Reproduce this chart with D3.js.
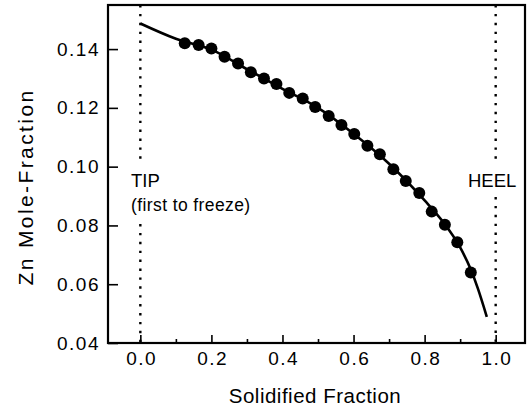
<!DOCTYPE html>
<html>
<head>
<meta charset="utf-8">
<script src="https://cdn.jsdelivr.net/npm/d3@7"></script>
<style>
  body { margin: 0; background: #fff; }
  svg text { font-family: "Liberation Sans", Arial, Helvetica, sans-serif; fill: #000; }
</style>
</head>
<body>
<svg id="chart" width="528" height="411"></svg>
<script>
// measured points (solidified fraction vs Zn mole fraction)
const fraction = [0.125, 0.164, 0.200, 0.237, 0.275, 0.311, 0.348, 0.383, 0.419, 0.457, 0.492, 0.530,
                  0.566, 0.602, 0.639, 0.674, 0.712, 0.747, 0.785, 0.820, 0.857, 0.892, 0.930];
const znMole = [0.1420, 0.1414, 0.1402, 0.1374, 0.1351, 0.1321, 0.1300, 0.1281, 0.1251, 0.1232, 0.1203, 0.1172,
                0.1142, 0.1111, 0.1071, 0.1042, 0.0991, 0.0951, 0.0910, 0.0847, 0.0802, 0.0743, 0.0640];

// fitted curve
const fitFraction = [0.0, 0.1, 0.2, 0.3, 0.4, 0.5, 0.6, 0.7, 0.8, 0.85, 0.9, 0.93, 0.95, 0.975];
const fitZn = [0.1487, 0.1435, 0.1398, 0.1332, 0.1265, 0.1200, 0.1112, 0.1010, 0.0885, 0.0815, 0.0725, 0.0650, 0.0585, 0.0489];

const xTicks = [0.0, 0.2, 0.4, 0.6, 0.8, 1.0];
const xMinorTicks = [0.1, 0.3, 0.5, 0.7, 0.9];
const yTicks = [0.04, 0.06, 0.08, 0.10, 0.12, 0.14];

const markerPos = [0.0, 1.0];
const markerText = [["TIP", "(first to freeze)"], ["HEEL"]];

const svg = d3.select("#chart");
const plotL = 108, plotR = 525, plotT = 5, plotB = 343;

const x = d3.scaleLinear().domain([-0.091, 1.0825]).range([plotL, plotR]);
const y = d3.scaleLinear().domain([0.04, 0.155]).range([plotB, plotT]);

// dotted vertical markers, broken where the labels sit
const gaps = [[163, 224], [163, 197]];
markerPos.forEach((m, i) => {
  [[plotT, gaps[i][0]], [gaps[i][1], plotB]].forEach(seg => {
    svg.append("line")
      .attr("x1", x(m)).attr("x2", x(m))
      .attr("y1", seg[0]).attr("y2", seg[1])
      .attr("stroke", "#000")
      .attr("stroke-width", 2.4)
      .attr("stroke-dasharray", "2.4,6.5");
  });
});

// labels for markers
svg.append("text").attr("x", 131).attr("y", 187).attr("font-size", 18.5).text(markerText[0][0]);
svg.append("text").attr("x", 131).attr("y", 211).attr("font-size", 17.5)
  .attr("letter-spacing", 0.4).text(markerText[0][1]);
svg.append("text").attr("x", 468).attr("y", 187).attr("font-size", 18.5).text(markerText[1][0]);

// fit curve
const line = d3.line()
  .x((d, i) => x(fitFraction[i]))
  .y((d, i) => y(fitZn[i]))
  .curve(d3.curveMonotoneX);
svg.append("path")
  .datum(fitFraction)
  .attr("d", line)
  .attr("fill", "none")
  .attr("stroke", "#000")
  .attr("stroke-width", 2.6);

// data points
svg.selectAll("circle.pt")
  .data(fraction)
  .enter().append("circle")
  .attr("class", "pt")
  .attr("cx", d => x(d))
  .attr("cy", (d, i) => y(znMole[i]))
  .attr("r", 6)
  .attr("fill", "#000");

// axes
const xAxis = svg.append("g")
  .attr("transform", "translate(0," + plotB + ")")
  .call(d3.axisBottom(x).tickValues(xTicks).tickSizeInner(-8).tickSizeOuter(0)
    .tickPadding(9).tickFormat(d3.format(".1f")));
xAxis.select(".domain").remove();
xAxis.selectAll("line").attr("stroke-width", 1.6);
xAxis.selectAll("text").attr("font-size", 19).attr("letter-spacing", 1.5).attr("dx", 0.75);
xAxis.attr("font-family", null);

const xMinor = svg.append("g")
  .attr("transform", "translate(0," + plotB + ")")
  .call(d3.axisBottom(x).tickValues(xMinorTicks).tickSizeInner(-4).tickSizeOuter(0).tickFormat(""));
xMinor.select(".domain").remove();
xMinor.selectAll("line").attr("stroke-width", 1.6);

const yAxis = svg.append("g")
  .attr("transform", "translate(" + plotL + ",0)")
  .call(d3.axisLeft(y).tickValues(yTicks).tickSizeInner(-10).tickSizeOuter(0)
    .tickPadding(8).tickFormat(d3.format(".2f")));
yAxis.select(".domain").remove();
yAxis.selectAll("line").attr("stroke-width", 1.6);
yAxis.selectAll("text").attr("font-size", 19).attr("letter-spacing", 1.5);
yAxis.attr("font-family", null);

// frame
svg.append("rect")
  .attr("x", plotL).attr("y", plotT)
  .attr("width", plotR - plotL).attr("height", plotB - plotT)
  .attr("fill", "none")
  .attr("stroke", "#000")
  .attr("stroke-width", 2.2);

// axis titles
svg.append("text")
  .attr("x", (x(0) + x(1)) / 2 - 3)
  .attr("y", 403)
  .attr("text-anchor", "middle")
  .attr("font-size", 20.5)
  .attr("letter-spacing", 0.5)
  .text("Solidified Fraction");

svg.append("text")
  .attr("transform", "translate(33,187) rotate(-90)")
  .attr("text-anchor", "middle")
  .attr("font-size", 21)
  .attr("letter-spacing", 2.4)
  .text("Zn Mole-Fraction");
</script>
</body>
</html>
